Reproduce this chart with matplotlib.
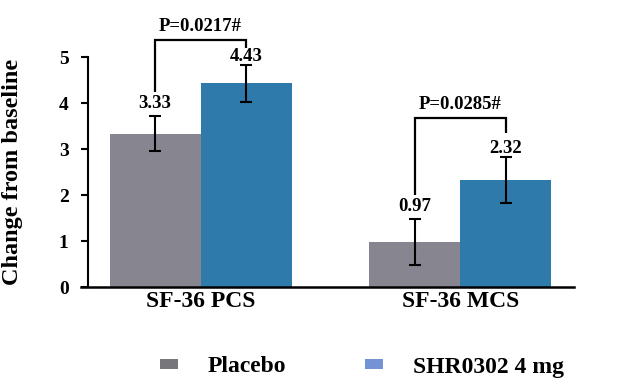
import matplotlib
matplotlib.use("Agg")
import matplotlib.pyplot as plt
from matplotlib.patches import Patch
import numpy as np

categories = ["SF-36 PCS", "SF-36 MCS"]
series = ["Placebo", "SHR0302 4 mg"]
placebo = [3.33, 0.97]
shr = [4.43, 2.32]
placebo_err = [0.38, 0.50]
shr_err = [0.40, 0.50]
pvalues = ["P=0.0217#", "P=0.0285#"]
yticks = [0, 1, 2, 3, 4, 5]

bar_colors = ["#878590", "#2E7AAA"]
legend_colors = ["#77767B", "#7393D4"]
bracket_tops = [5.37, 3.67]

plt.rcParams['font.family'] = ['Liberation Serif', 'DejaVu Serif']
plt.rcParams['font.weight'] = 'bold'

fig = plt.figure(figsize=(6.29, 3.85), dpi=100)
ax = fig.add_axes([81/629, 1 - 287/385, 493/629, 230/385])

x = np.arange(len(categories))
w = 0.35
ax.bar(x - w/2, placebo, w, color=bar_colors[0], zorder=1)
ax.bar(x + w/2, shr, w, color=bar_colors[1], zorder=1)
ax.errorbar(x - w/2, placebo, yerr=placebo_err, fmt='none', ecolor='black',
            elinewidth=1.5, capsize=4, capthick=1.5, zorder=3)
ax.errorbar(x + w/2, shr, yerr=shr_err, fmt='none', ecolor='black',
            elinewidth=1.5, capsize=4, capthick=1.5, zorder=3)

for xi, v, e in zip(x - w/2, placebo, placebo_err):
    ax.text(xi, v + e + 0.27, f"{v:.2f}", ha='center', va='center', fontsize=13.5, fontweight='bold')
for xi, v, e in zip(x + w/2, shr, shr_err):
    ax.text(xi, v + e + 0.19, f"{v:.2f}", ha='center', va='center', fontsize=13.5, fontweight='bold')

# significance brackets
for i in range(len(categories)):
    top = bracket_tops[i]
    left_top = min(placebo[i] + placebo_err[i] + 0.52, top - 0.17)
    right_top = min(shr[i] + shr_err[i] + 0.52, top - 0.17)
    xl, xr = x[i] - w/2, x[i] + w/2
    ax.plot([xl, xl, xr, xr], [left_top, top, top, right_top], color='black', lw=1.6,
            clip_on=False, solid_joinstyle='miter', solid_capstyle='butt')
    ax.text(x[i], top + 0.30, pvalues[i], ha='center', va='center', fontsize=13.5, fontweight='bold')

ax.set_xlim(-0.46, 1.437)
ax.set_ylim(0, 5)
ax.set_yticks(yticks)
ax.set_yticklabels([str(t) for t in yticks])
ax.set_xticks(x)
ax.set_xticklabels(categories)
ax.tick_params(axis='x', length=0, pad=3, labelsize=17)
ax.tick_params(axis='y', length=5, width=1.5, direction='out', pad=9, labelsize=14)
for lab in ax.get_xticklabels() + ax.get_yticklabels():
    lab.set_fontweight('bold')
ax.spines['top'].set_visible(False)
ax.spines['right'].set_visible(False)
ax.spines['left'].set_position(('data', -0.433))
ax.spines['left'].set_linewidth(1.5)
ax.spines['bottom'].set_linewidth(1.8)

fig.text(13/629, 1 - 172/385, "Change from baseline", rotation=90, ha='center', va='center',
         fontsize=17.5, fontweight='bold')

handles = [Patch(facecolor=legend_colors[0], edgecolor='none'),
           Patch(facecolor=legend_colors[1], edgecolor='none')]
fig.legend(handles, series, loc='center', bbox_to_anchor=(362/629, 1 - 367/385), ncol=2,
           frameon=False, prop={'family': 'Liberation Serif', 'weight': 'bold', 'size': 17},
           handlelength=0.76, handleheight=0.25, handletextpad=1.25, columnspacing=3.35,
           borderpad=0, borderaxespad=0)

fig.savefig("out.png", dpi=100)
